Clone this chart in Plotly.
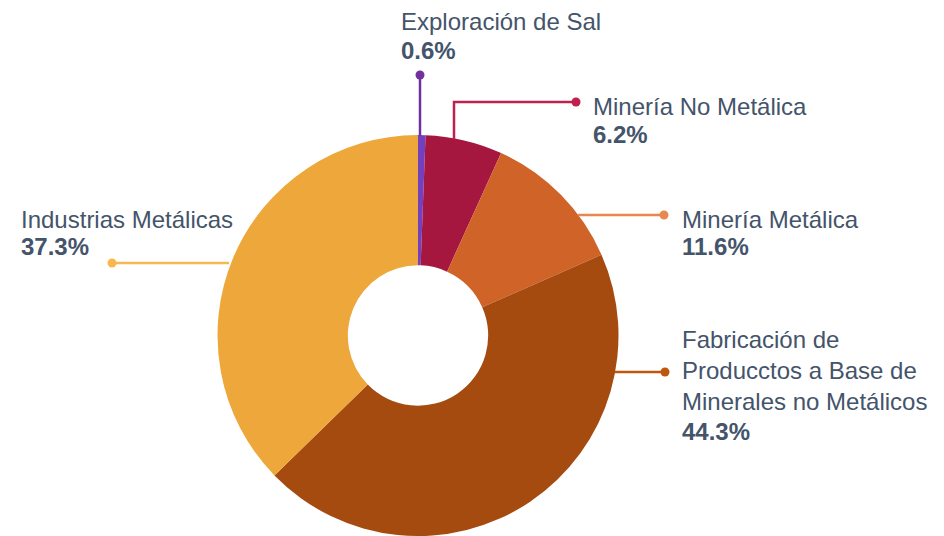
import plotly.graph_objects as go

labels = ["Exploración de Sal", "Minería No Metálica", "Minería Metálica",
          "Fabricación de Producctos a Base de Minerales no Metálicos", "Industrias Metálicas"]
label_lines = [["Exploración de Sal"], ["Minería No Metálica"], ["Minería Metálica"],
               ["Fabricación de", "Producctos a Base de", "Minerales no Metálicos"],
               ["Industrias Metálicas"]]
values = [0.6, 6.2, 11.6, 44.3, 37.3]
slice_colors = ["#7340c0", "#a5173f", "#cf6328", "#a54b10", "#eea73b"]
line_colors = ["#7030a0", "#c0204e", "#e8874e", "#c0560e", "#f8b84e"]

# browser body margin offsets the figure by 8px; size the figure to fit the window
OFF = 8
W, H = 944 - OFF, 536 - OFF
FONT = "Liberation Sans, Arial, sans-serif"
TXT = "#44546a"
FS = 24

def px(x):
    return (x - OFF) / W

def py(y):
    return 1 - (y - OFF) / H

cx, cy, r = 418, 336, 201

fig = go.Figure(go.Pie(
    labels=labels, values=values, sort=False, direction="clockwise", rotation=0,
    hole=0.35, marker=dict(colors=slice_colors, line=dict(width=0)),
    textinfo="none", hoverinfo="label+percent", showlegend=False,
    domain=dict(x=[px(cx - r), px(cx + r)], y=[max(0, py(cy + r)), py(cy - r)]),
))

# label placement (pixels): text x, line-center ys, leader path, dot
layout_spec = [
    dict(tx=400, ys=[21.5, 50], path=[(420, 136), (420, 75)]),
    dict(tx=592, ys=[106.5, 134], path=[(454, 139), (454, 102), (576, 102)]),
    dict(tx=681, ys=[219.5, 246.5], path=[(578, 215), (664, 215)]),
    dict(tx=681, ys=[339.5, 370.5, 401.5, 431.5], path=[(615, 372), (665, 372)]),
    dict(tx=20, ys=[219.5, 246.5], path=[(229, 263), (112, 263)]),
]

shapes = []
annotations = []
for i, spec in enumerate(layout_spec):
    col = line_colors[i]
    pts = spec["path"]
    d = "M " + " L ".join(f"{px(x)},{py(y)}" for x, y in pts)
    shapes.append(dict(type="path", path=d, xref="paper", yref="paper",
                       line=dict(color=col, width=2.5)))
    ex, ey = pts[-1]
    rr = 4.5
    shapes.append(dict(type="circle", xref="paper", yref="paper",
                       x0=px(ex - rr), x1=px(ex + rr), y0=py(ey + rr), y1=py(ey - rr),
                       fillcolor=col, line=dict(width=0)))
    lines = label_lines[i] + [f"<b>{values[i]:.1f}%</b>"]
    for txt, yy in zip(lines, spec["ys"]):
        annotations.append(dict(text=txt, x=px(spec["tx"] - 1), y=py(yy), xref="paper", yref="paper",
                                xanchor="left", yanchor="middle", showarrow=False,
                                font=dict(family=FONT, size=FS, color=TXT)))

fig.update_layout(width=W, height=H, margin=dict(l=0, r=0, t=0, b=0),
                  paper_bgcolor="white", plot_bgcolor="white",
                  shapes=shapes, annotations=annotations)

fig.write_html("out.html")
